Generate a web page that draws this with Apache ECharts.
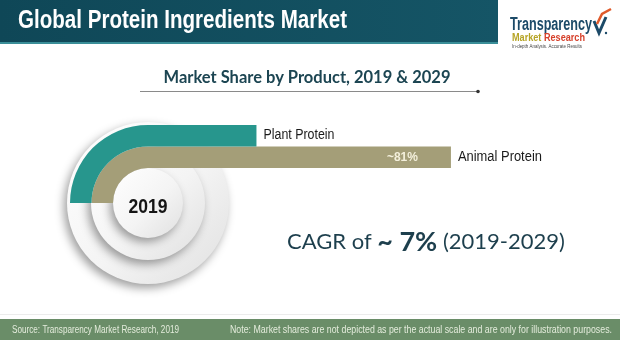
<!DOCTYPE html>
<html>
<head>
<meta charset="utf-8">
<script src="https://cdn.jsdelivr.net/npm/echarts@6.0.0/dist/echarts.min.js"></script>
<style>
html,body{margin:0;padding:0;background:#fff;}
#chart{width:620px;height:340px;}
</style>
</head>
<body>
<div id="chart"></div>
<script>
// ---- data ----
var categories = ['Animal Protein', 'Plant Protein'];
var barLengths = [81, 29];            // illustrative bar lengths
var arcSweep = [90, 90];              // quarter-arc sweep (degrees) for each ring
var valueLabels = ['~81%', ''];
var barColors = ['#a49e78', '#27968d'];
var titleText = 'Global Protein Ingredients Market';
var subtitleText = 'Market Share by Product, 2019 & 2029';
var yearText = '2019';
var sourceText = 'Source: Transparency Market Research, 2019';
var noteText = 'Note: Market shares are not depicted as per the actual scale and are only for illustration purposes.';

var SANS = '"Liberation Sans", Arial, sans-serif';
var CAL = 'Lato, "Open Sans", sans-serif';

var mctx = document.createElement('canvas').getContext('2d');
function fitScale(text, font, w) { mctx.font = font; return w / mctx.measureText(text).width; }
function fitSize(text, size, weight, w) {
  mctx.font = (weight ? weight + ' ' : '') + size + 'px ' + SANS;
  return Math.round(size * w / mctx.measureText(text).width * 10) / 10;
}
function sText(x, y, text, font, w, fill, align, z) {
  return {type: 'text', z: z || 1, x: x, y: y, scaleX: fitScale(text, font, w), scaleY: 1,
    style: {text: text, fill: fill, font: font, textAlign: align || 'left', textVerticalAlign: 'middle'}};
}

var chart = echarts.init(document.getElementById('chart'), null, {renderer: 'canvas'});

function disc(r, z) {
  return {
    type: 'circle', z: z,
    shape: {cx: 148, cy: 203, r: r},
    style: {
      fill: new echarts.graphic.LinearGradient(0, 0, 1, 1, [
        {offset: 0, color: '#ffffff'},
        {offset: 0.55, color: '#f4f4f4'},
        {offset: 1, color: '#e0e0e0'}
      ]),
      shadowBlur: 10, shadowColor: 'rgba(0,0,0,0.38)', shadowOffsetX: -3, shadowOffsetY: 4
    }
  };
}

var pctSize = fitSize('~81%', 14, 'bold', 31);
var nameWidths = [84, 71];

var option = {
  backgroundColor: '#ffffff',
  animation: false,
  polar: {center: [148, 203], radius: [35, 78]},
  angleAxis: {type: 'value', min: 0, max: 360, startAngle: 180, clockwise: true, show: false},
  radiusAxis: {type: 'category', data: categories, show: false},
  grid: {left: 148, top: 125, width: 374, height: 43},
  xAxis: {type: 'value', min: 0, max: 100, show: false},
  yAxis: {type: 'category', data: categories, show: false},
  series: [
    {
      type: 'bar', coordinateSystem: 'polar', z: 5,
      barCategoryGap: '0%',
      data: arcSweep.map(function (v, i) { return {value: v, itemStyle: {color: barColors[i]}}; }),
      silent: true
    },
    {
      type: 'bar', z: 5,
      barCategoryGap: '0%',
      data: barLengths.map(function (v, i) { return {value: v, itemStyle: {color: barColors[i]}}; }),
      label: {
        show: true, position: 'insideRight', offset: [-28, 0],
        formatter: function (p) { return valueLabels[p.dataIndex]; },
        fontFamily: SANS, fontSize: pctSize, fontWeight: 'bold', color: '#f4f0dc'
      }
    }
  ]
};
chart.setOption(option);

// category name labels placed at the bar ends via the library's own scales
var nameLabels = categories.map(function (c, i) {
  var pt = chart.convertToPixel({gridIndex: 0}, [barLengths[i], c]);
  return sText(pt[0] + 7, pt[1] - 0.5, c, '14px ' + SANS, nameWidths[i], '#1a1a1a', 'left', 6);
});

var graphics = [
  // title banner
  {type: 'rect', z: 0, shape: {x: 0, y: 0, width: 498, height: 42},
    style: {fill: new echarts.graphic.LinearGradient(0, 0, 1, 0, [
      {offset: 0, color: '#0f4757'}, {offset: 1, color: '#155566'}])}},
  {type: 'rect', z: 0, shape: {x: 0, y: 42, width: 498, height: 2}, style: {fill: '#3a8e98'}},
  sText(18, 21, titleText, 'bold 25px ' + SANS, 329, '#ffffff'),
  // logo
  sText(510, 25, 'Transparency', 'bold 18px ' + SANS, 82, '#1c4a68'),
  {type: 'polyline', z: 1, shape: {points: [[594, 21], [599, 33], [606, 17]]},
    style: {stroke: '#1c4a68', lineWidth: 3, fill: null}},
  {type: 'polyline', z: 1, shape: {points: [[597, 24], [602, 14], [611, 9]]},
    style: {stroke: '#e05a2a', lineWidth: 2.5, fill: null}},
  {type: 'circle', z: 1, shape: {cx: 606, cy: 33, r: 1.2}, style: {fill: '#1c4a68'}},
  {type: 'text', z: 1, x: 512, y: 38, scaleX: fitScale('Market Research', 'bold 11px ' + SANS, 73),
    style: {text: '{m|Market }{r|Research}', rich: {
      m: {fill: '#b6a425', font: 'bold 11px ' + SANS},
      r: {fill: '#d6402b', font: 'bold 11px ' + SANS}}, textVerticalAlign: 'middle'}},
  sText(512, 47, 'In-depth Analysis. Accurate Results', '5px ' + SANS, 70, '#444'),
  // subtitle
  {type: 'text', z: 1, x: 307, y: 78,
    style: {text: subtitleText, fill: '#1c4552', font: 'bold 16.5px ' + CAL,
      textAlign: 'center', textVerticalAlign: 'middle'}},
  {type: 'line', z: 1, shape: {x1: 140, y1: 91.5, x2: 478, y2: 91.5}, style: {stroke: '#8a8a8a', lineWidth: 1}},
  {type: 'circle', z: 1, shape: {cx: 478, cy: 91.5, r: 1.8}, style: {fill: '#333'}},
  // discs
  disc(81, 1),
  disc(57, 2),
  disc(35, 3),
  sText(148, 207, yearText, 'bold 21px ' + SANS, 39, '#151515', 'center', 4),
  // CAGR
  {type: 'text', z: 4, x: 287, y: 242,
    style: {text: '{a|CAGR of }{b|~ 7%}{a| (2019-2029)}', textVerticalAlign: 'middle', rich: {
      a: {fill: '#1d3f4d', font: '22px ' + CAL},
      b: {fill: '#1d3f4d', font: 'bold 27px ' + CAL}}}},
  // footer
  {type: 'line', z: 0, shape: {x1: 0, y1: 314.5, x2: 620, y2: 314.5}, style: {stroke: '#ececec', lineWidth: 1}},
  {type: 'rect', z: 0, shape: {x: 0, y: 319, width: 620, height: 21}, style: {fill: '#6a8d68'}},
  sText(12, 330, sourceText, '10px ' + SANS, 167, '#e4ecdc'),
  sText(230, 330, noteText, '10px ' + SANS, 382, '#e4ecdc')
].concat(nameLabels);

chart.setOption({graphic: graphics});
</script>
</body>
</html>
